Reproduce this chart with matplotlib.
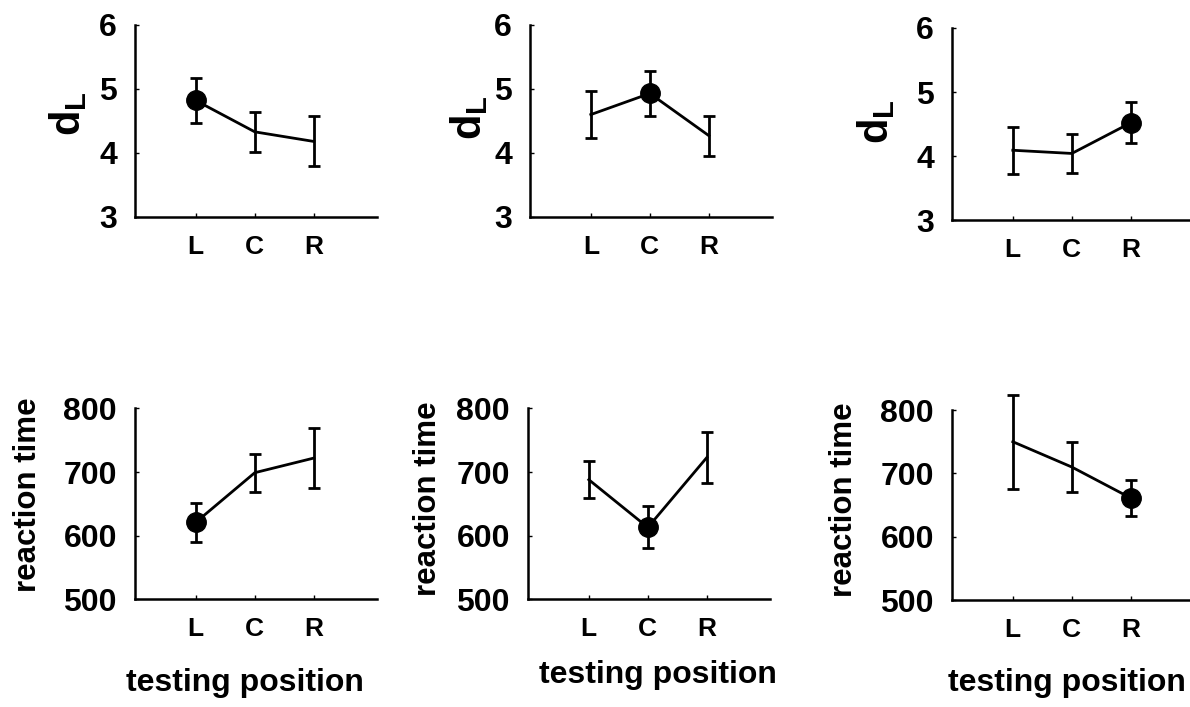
import matplotlib
matplotlib.use('Agg')
import matplotlib.pyplot as plt

plt.rcParams['font.family'] = 'Liberation Sans'
plt.rcParams['font.weight'] = 'bold'
plt.rcParams['mathtext.fontset'] = 'custom'
plt.rcParams['mathtext.rm'] = 'Liberation Sans:bold'
plt.rcParams['mathtext.bf'] = 'Liberation Sans:bold'

# testing positions and the filled point in each column
positions = ['L', 'C', 'R']
trained = [0, 1, 2]

# d_L (top row), mean and error per panel
dl_mean = [[4.82, 4.33, 4.18], [4.60, 4.93, 4.27], [4.09, 4.04, 4.52]]
dl_err = [[0.35, 0.31, 0.39], [0.37, 0.35, 0.31], [0.37, 0.30, 0.32]]

# reaction time (bottom row)
rt_mean = [[621, 699, 722], [688, 613, 723], [750, 710, 661]]
rt_err = [[31, 30, 47], [29, 33, 40], [74, 40, 28]]

dl_ticks = [3, 4, 5, 6]
rt_ticks = [500, 600, 700, 800]

fig = plt.figure(figsize=(11.9, 7.07), dpi=100)

top_rects = [[0.1134, 0.6931, 0.2034, 0.2716],
             [0.4454, 0.6931, 0.2034, 0.2716],
             [0.8000, 0.6888, 0.2034, 0.2716]]
bot_rects = [[0.1134, 0.1523, 0.2034, 0.2700],
             [0.4437, 0.1523, 0.2034, 0.2700],
             [0.8000, 0.1513, 0.2034, 0.2687]]
top_lab = [(-0.19, 0.54), (-0.166, 0.52), (-0.228, 0.51)]
bot_lab = [(-0.38, 0.549), (-0.351, 0.525), (-0.384, 0.53)]
x_lab = [(0.455, -0.36), (0.536, -0.32), (0.474, -0.36)]

xs = [1, 2, 3]


def style(ax, ticks):
    ax.spines['top'].set_visible(False)
    ax.spines['right'].set_visible(False)
    ax.spines['left'].set_linewidth(1.8)
    ax.spines['bottom'].set_linewidth(1.8)
    ax.set_xlim(-0.03, 4.07)
    ax.set_ylim(ticks[0], ticks[-1])
    ax.set_yticks(ticks)
    ax.set_xticks(xs)
    ax.set_xticklabels(positions)
    ax.tick_params(axis='y', direction='in', length=3, width=1,
                   labelsize=23, pad=13)
    ax.tick_params(axis='x', direction='in', length=3, width=1,
                   labelsize=19, pad=13)
    for lab in ax.get_xticklabels() + ax.get_yticklabels():
        lab.set_fontweight('bold')


def panel(ax, mean, err, hi):
    eb = ax.errorbar(xs, mean, yerr=err, color='k', lw=2, elinewidth=2,
                     capsize=4, capthick=2)
    for art in eb.get_children():
        art.set_clip_on(False)
    ax.plot(xs[hi], mean[hi], 'o', color='k', ms=14, clip_on=False)


for i in range(3):
    ax = fig.add_axes(top_rects[i])
    panel(ax, dl_mean[i], dl_err[i], trained[i])
    style(ax, dl_ticks)
    ax.set_ylabel(r'$\mathbf{d}_{\mathbf{L}}$', fontsize=30)
    ax.yaxis.set_label_coords(*top_lab[i])

    ax = fig.add_axes(bot_rects[i])
    panel(ax, rt_mean[i], rt_err[i], trained[i])
    style(ax, rt_ticks)
    ax.set_ylabel('reaction time', fontsize=22.5, fontweight='bold')
    ax.yaxis.set_label_coords(*bot_lab[i])
    ax.set_xlabel('testing position', fontsize=23, fontweight='bold')
    ax.xaxis.set_label_coords(*x_lab[i])

fig.savefig('out.png', dpi=100)
